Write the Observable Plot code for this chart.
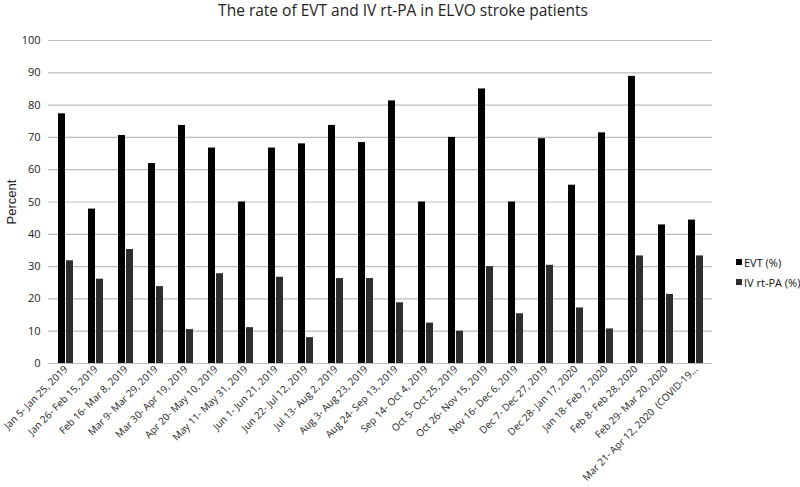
<!DOCTYPE html>
<html>
<head>
<meta charset="utf-8">
<script src="https://cdn.jsdelivr.net/npm/d3@7"></script>
<script src="https://cdn.jsdelivr.net/npm/@observablehq/plot@0.6"></script>
<style>
  html, body { margin: 0; padding: 0; background: #fff; }
  #wrap { position: relative; width: 800px; height: 487px; font-family: "Open Sans", sans-serif; overflow: hidden; }
  #title { position: absolute; z-index: 2; left: 0; top: 0px; width: 806px; text-align: center; font-size: 15.5px; color: #222; line-height: 21px; }
  #chart { position: absolute; left: 0; top: 20px; }
  #legend { position: absolute; left: 736px; top: 252px; font-size: 11px; color: #111; white-space: nowrap; }
  #legend div { display: flex; align-items: center; height: 20px; }
  #legend span.sw { width: 6px; height: 6px; margin-right: 2px; display: inline-block; }
  #chart svg g[aria-label="y-axis label"] text { font-family: "Liberation Sans", sans-serif; font-size: 13px; }
</style>
</head>
<body>
<div id="wrap">
  <div id="title">The rate of EVT and IV rt-PA in ELVO stroke patients</div>
  <div id="chart"></div>
  <div id="legend"></div>
</div>
<script>
const periods = [
  "Jan 5- Jan 25, 2019", "Jan 26- Feb 15, 2019", "Feb 16- Mar 8, 2019", "Mar 9- Mar 29, 2019",
  "Mar 30- Apr 19, 2019", "Apr 20- May 10, 2019", "May 11- May 31, 2019", "Jun 1- Jun 21, 2019",
  "Jun 22- Jul 12, 2019", "Jul 13- Aug 2, 2019", "Aug 3- Aug 23, 2019", "Aug 24- Sep 13, 2019",
  "Sep 14- Oct 4, 2019", "Oct 5- Oct 25, 2019", "Oct 26- Nov 15, 2019", "Nov 16- Dec 6, 2019",
  "Dec 7- Dec 27, 2019", "Dec 28- Jan 17, 2020", "Jan 18- Feb 7, 2020", "Feb 8- Feb 28, 2020",
  "Feb 29- Mar 20, 2020", "Mar 21- Apr 12, 2020  (COVID-19..."
];
const evt = [77.3, 47.8, 70.6, 61.9, 73.7, 66.7, 50.0, 66.7, 68.0, 73.7, 68.4, 81.3,
             50.0, 70.0, 85.0, 50.0, 69.6, 55.2, 71.4, 88.9, 42.9, 44.4];
const ivtpa = [31.8, 26.1, 35.3, 23.8, 10.5, 27.8, 11.1, 26.7, 8.0, 26.3, 26.3, 18.8,
               12.5, 10.0, 30.0, 15.4, 30.4, 17.2, 10.7, 33.3, 21.4, 33.3];
const seriesNames = ["EVT (%)", "IV rt-PA (%)"];
const seriesColors = ["#000000", "#2e2e2e"];
const yTicks = [0, 10, 20, 30, 40, 50, 60, 70, 80, 90, 100];

const evtRows = periods.map((p, i) => ({period: p, value: evt[i]}));
const ivRows = periods.map((p, i) => ({period: p, value: ivtpa[i]}));

const chart = Plot.plot({
  width: 800,
  height: 467,
  marginLeft: 48,
  marginRight: 88,
  marginTop: 20,
  marginBottom: 124,
  style: {fontFamily: "Open Sans, sans-serif", fontSize: "11px", color: "#222", background: "transparent", overflow: "visible"},
  x: {domain: periods, paddingInner: 0.5, paddingOuter: 0.25, label: null},
  y: {domain: [0, 100], label: null},
  marks: [
    Plot.ruleY(yTicks, {stroke: "#bdbdbd", strokeWidth: 1.2}),
    Plot.barY(evtRows, {x: "period", y: "value", fill: seriesColors[0], insetRight: 8}),
    Plot.barY(ivRows, {x: "period", y: "value", fill: seriesColors[1], insetLeft: 8}),
    Plot.axisY({ticks: yTicks, tickSize: 0, tickPadding: 8, label: "Percent", labelAnchor: "center", labelOffset: 42, labelArrow: "none"}),
    Plot.axisX({tickSize: 0, tickRotate: -45, tickPadding: 4, label: null, fontSize: 10})
  ]
});
document.getElementById("chart").appendChild(chart);

const legend = document.getElementById("legend");
seriesNames.forEach((name, i) => {
  const row = document.createElement("div");
  const sw = document.createElement("span");
  sw.className = "sw";
  sw.style.background = seriesColors[i];
  row.appendChild(sw);
  row.appendChild(document.createTextNode(name));
  legend.appendChild(row);
});
</script>
</body>
</html>
